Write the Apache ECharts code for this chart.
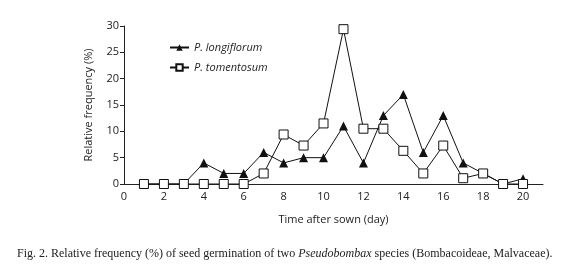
<!DOCTYPE html>
<html>
<head>
<meta charset="utf-8">
<script src="https://cdn.jsdelivr.net/npm/echarts@6/dist/echarts.min.js"></script>
<style>
  html, body { margin: 0; padding: 0; background: #fff; }
  #chart { width: 577px; height: 276px; }
</style>
</head>
<body>
<div id="chart"></div>
<script>
// days after sowing
const days = [1, 2, 3, 4, 5, 6, 7, 8, 9, 10, 11, 12, 13, 14, 15, 16, 17, 18, 19, 20];
// relative frequency (%)
const longiflorum = [0, 0, 0, 4, 2, 2, 6, 4, 5, 5, 11, 4, 13, 17, 6, 13, 4, 2, 0, 1];
const tomentosum = [0, 0, 0, 0, 0, 0, 2, 9.4, 7.3, 11.5, 29.4, 10.5, 10.5, 6.3, 2, 7.3, 1.1, 2, 0, 0];

const pairs = (vals) => days.map((d, i) => [d, vals[i]]);

const font = 'Open Sans';
const chart = echarts.init(document.getElementById('chart'));
chart.setOption({
  animation: false,
  backgroundColor: '#fff',
  grid: { left: 124, right: 34, top: 26, bottom: 92 },
  title: {
    left: 12,
    top: 243,
    text: '{n|Fig. 2. Relative frequency (%) of seed germination of two }{i|Pseudobombax}{n| species (Bombacoideae, Malvaceae).}',
    textStyle: {
      fontWeight: 'normal',
      rich: {
        n: { fontFamily: 'Liberation Serif', fontSize: 12, fontWeight: 'normal', color: '#222' },
        i: { fontFamily: 'Liberation Serif', fontSize: 12, fontWeight: 'normal', fontStyle: 'italic', color: '#222' }
      }
    }
  },
  legend: {
    orient: 'vertical',
    left: 164,
    top: 37,
    itemWidth: 19,
    itemHeight: 8,
    itemGap: 9,
    textStyle: { fontFamily: font, fontSize: 11, fontStyle: 'italic', color: '#222' },
    data: ['P. longiflorum', 'P. tomentosum']
  },
  xAxis: {
    type: 'value',
    min: 0,
    max: 21,
    interval: 2,
    name: 'Time after sown (day)',
    nameLocation: 'middle',
    nameGap: 30,
    nameTextStyle: { fontFamily: font, fontSize: 11, color: '#222' },
    axisLine: { lineStyle: { color: '#222', width: 1 } },
    axisTick: { show: false },
    axisLabel: { showMaxLabel: false, fontFamily: font, fontSize: 11, color: '#222', margin: 7 },
    splitLine: { show: false }
  },
  yAxis: {
    type: 'value',
    min: 0,
    max: 30,
    interval: 5,
    name: 'Relative frequency (%)',
    nameLocation: 'middle',
    nameGap: 30,
    nameTextStyle: { fontFamily: font, fontSize: 11, color: '#222' },
    axisLine: { show: true, lineStyle: { color: '#222', width: 1 } },
    axisTick: { show: true, length: 4, lineStyle: { color: '#222' } },
    axisLabel: { fontFamily: font, fontSize: 11, color: '#222', margin: 5 },
    splitLine: { show: false }
  },
  series: [
    {
      name: 'P. longiflorum',
      type: 'line',
      data: pairs(longiflorum),
      symbol: 'triangle',
      symbolSize: 9,
      lineStyle: { color: '#111', width: 1 },
      itemStyle: { color: '#111', borderColor: '#111', borderWidth: 0 },
      z: 2
    },
    {
      name: 'P. tomentosum',
      type: 'line',
      data: pairs(tomentosum),
      symbol: 'rect',
      symbolSize: 9,
      lineStyle: { color: '#111', width: 1 },
      itemStyle: { color: '#fff', borderColor: '#111', borderWidth: 1 },
      z: 3
    }
  ]
});
</script>
</body>
</html>
